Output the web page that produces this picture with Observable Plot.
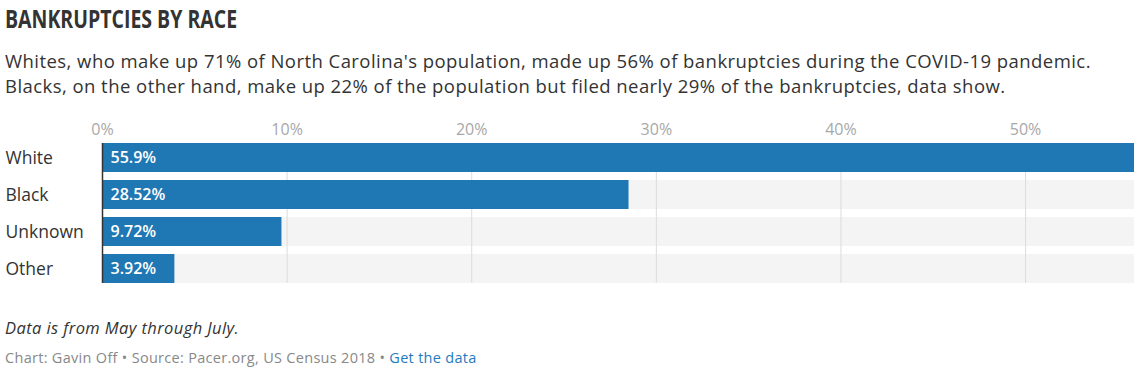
<!DOCTYPE html>
<html>
<head>
<meta charset="utf-8">
<script src="https://cdn.jsdelivr.net/npm/d3@7"></script>
<script src="https://cdn.jsdelivr.net/npm/@observablehq/plot@0.6"></script>
<style>
  html, body { margin: 0; padding: 0; background: #fff; }
  body { width: 1137px; height: 372px; overflow: hidden; font-family: "Open Sans", sans-serif; color: #333; }
  .wrap { padding-left: 5px; }
  h1 { margin: 0; padding-top: 4px; height: 28px; font-family: "Open Sans", sans-serif; font-weight: 700; font-size: 25px; line-height: 28px; color: #333; display: block; transform: scaleX(0.78); transform-origin: 0 0; white-space: nowrap; }
  .sub { margin: 15.5px 0 0 0; font-size: 18.5px; letter-spacing: 0.45px; line-height: 25px; color: #333; white-space: nowrap; }
  #chart { margin-top: 12.5px; height: 180px; }
  #chart svg { display: block; }
  .note { margin-top: 28px; font-style: italic; font-size: 16.5px; letter-spacing: 0.4px; line-height: 20px; color: #333; }
  .src { margin-top: 10px; font-size: 14.5px; letter-spacing: 0.3px; line-height: 20px; color: #888; }
  .src a { color: #1f7bbf; text-decoration: none; }
</style>
</head>
<body>
<div class="wrap">
  <h1>BANKRUPTCIES BY RACE</h1>
  <div class="sub">Whites, who make up 71% of North Carolina's population, made up 56% of bankruptcies during the COVID-19 pandemic.<br>Blacks, on the other hand, make up 22% of the population but filed nearly 29% of the bankruptcies, data show.</div>
</div>
<div id="chart"></div>
<div class="wrap">
  <div class="note">Data is from May through July.</div>
  <div class="src">Chart: Gavin Off • Source: Pacer.org, US Census 2018 • <a href="#">Get the data</a></div>
</div>
<script>
const categories = ["White", "Black", "Unknown", "Other"];
const values = [55.9, 28.52, 9.72, 3.92];
const valueLabels = ["55.9%", "28.52%", "9.72%", "3.92%"];
const xTicks = [0, 10, 20, 30, 40, 50];

const data = categories.map((c, i) => ({category: c, value: values[i], label: valueLabels[i]}));
const maxV = d3.max(values);

const chart = Plot.plot({
  width: 1137,
  height: 180,
  marginLeft: 102,
  marginRight: 3,
  marginTop: 33,
  marginBottom: 7,
  style: {fontFamily: "'Open Sans', sans-serif", fontSize: "16px", color: "#333", background: "transparent"},
  x: {domain: [0, maxV], axis: null, label: null},
  y: {domain: categories, axis: null, paddingInner: 0.22, paddingOuter: 0},
  marks: [
    Plot.barX(data, {y: "category", x1: 0, x2: () => maxV, fill: "#f4f4f4"}),
    Plot.ruleX(xTicks.filter(t => t > 0), {stroke: "#dcdcdc", strokeWidth: 1}),
    Plot.barX(data, {y: "category", x: "value", fill: "#1f77b4"}),
    Plot.ruleX([0], {stroke: "#333", strokeWidth: 1.5}),
    Plot.axisX(xTicks, {anchor: "top", tickSize: 0, tickPadding: 9, tickFormat: d => d + "%", color: "#a8a8a8", fontSize: 16, label: null}),
    Plot.text(data, {y: "category", x: 0, text: "label", dx: 8, textAnchor: "start", fill: "white", fontWeight: 600, fontSize: 16}),
    Plot.text(data, {y: "category", text: "category", frameAnchor: "left", dx: -97, textAnchor: "start", fill: "#333", fontSize: 17.5})
  ]
});
document.getElementById("chart").appendChild(chart);
</script>
</body>
</html>
